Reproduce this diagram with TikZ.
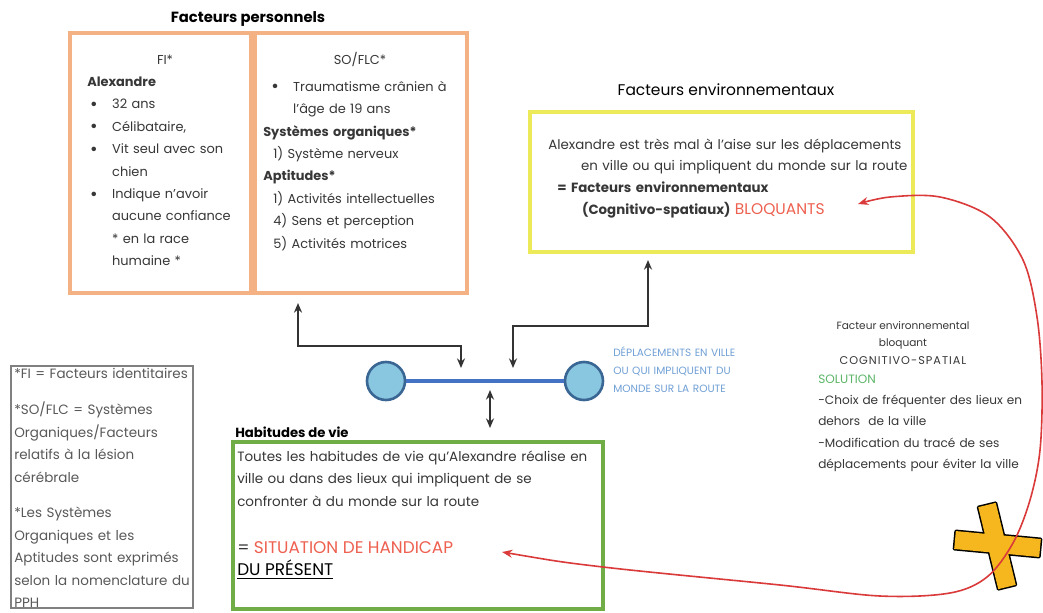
\documentclass[tikz,border=0pt]{standalone}
\usepackage{fontspec}
\setmainfont{Poppins}
\usepackage{tikz}
\usetikzlibrary{arrows.meta,positioning}
\definecolor{boxorange}{RGB}{244,177,131}
\definecolor{boxyellow}{RGB}{236,234,88}
\definecolor{boxgreen}{RGB}{112,173,71}
\definecolor{leggray}{RGB}{128,128,128}
\definecolor{bodygray}{RGB}{55,55,55}
\definecolor{redtxt}{RGB}{238,96,80}
\definecolor{redline}{RGB}{218,58,58}
\definecolor{bluetxt}{RGB}{112,160,214}
\definecolor{circfill}{RGB}{137,198,224}
\definecolor{circline}{RGB}{58,102,148}
\definecolor{barblue}{RGB}{68,114,196}
\definecolor{solgreen}{RGB}{92,182,104}
\definecolor{crossfill}{RGB}{246,183,30}
\newcommand\blt{\makebox[15.6pt][l]{\raisebox{-1.3pt}{\fontsize{13}{13}\selectfont\textbullet}}}

\begin{document}
\begin{tikzpicture}[x=0.025cm,y=-0.025cm,>=Stealth,
frame box/.style={draw,line width=0.1cm,outer sep=0pt,inner sep=0pt},
head/.style={inner sep=0pt,font=\fontsize{10.5}{12}\selectfont\bfseries},
body/.style={anchor=base west,inner sep=0pt,align=left,text width=11cm,text=bodygray,font=\fontsize{9.2}{16}\selectfont},
small/.style={inner sep=0pt,text=bodygray,font=\fontsize{9.2}{16}\selectfont},
link/.style={{Stealth[length=2.4mm,width=2mm]}-{Stealth[length=2.4mm,width=2mm]},draw=black!80,line width=0.04cm},
redlink/.style={{Stealth[length=2.6mm,width=2mm]}-{Stealth[length=2.6mm,width=2mm]},draw=redline,line width=0.04cm},
dot/.style={circle,draw=circline,fill=circfill,line width=0.065cm,minimum size=0.95cm,inner sep=0pt}]
\useasboundingbox[fill=white] (0,0) rectangle (1043,612);

\node[head] (perstitle) at (248,19) {Facteurs personnels};
\node[frame box,draw=boxorange,minimum width=4.525cm,minimum height=6.5cm] (fibox) at (160.5,163) {};
\node[frame box,draw=boxorange,minimum width=5.3cm,minimum height=6.5cm] (sobox) at (361,163) {};
\node[small] (fihead) at (165,60) {FI*};
\node[small] (sohead) at (360,60) {SO/FLC*};
\node[body] (fitext) at (87,86) {{\bfseries Alexandre}\\
\hspace*{2.1pt}\blt 32 ans\\
\hspace*{2.1pt}\blt Célibataire,\\
\hspace*{2.1pt}\blt Vit seul avec son\\
\hspace*{17.7pt}chien\\
\hspace*{2.1pt}\blt Indique n'avoir\\
\hspace*{17.7pt}aucune confiance\\
\hspace*{17.7pt}* en la race\\
\hspace*{17.7pt}humaine *};
\node[body] (sotext) at (263,91) {\hspace*{5.7pt}\blt Traumatisme crânien à\\
\hspace*{21.3pt}l'âge de 19 ans\\
{\bfseries Systèmes organiques*}\\
\hspace*{7.1pt}1) Système nerveux\\
{\bfseries Aptitudes*}\\
\hspace*{7.1pt}1) Activités intellectuelles\\
\hspace*{7.1pt}4) Sens et perception\\
\hspace*{7.1pt}5) Activités motrices};

\node[head,font=\fontsize{11}{12}\selectfont] (envtitle) at (726,90) {Facteurs environnementaux};
\node[frame box,draw=boxyellow,minimum width=9.575cm,minimum height=3.5cm] (envbox) at (721.5,182) {};
\node[body,font=\fontsize{9.5}{15.6}\selectfont] (envtext) at (548,149) {Alexandre est très mal à l'aise sur les déplacements\\
\hspace*{23.4pt}en ville ou qui impliquent du monde sur la route\\
\hspace*{6.4pt}{\bfseries = Facteurs environnementaux}\\
\hspace*{24.1pt}{\bfseries (Cognitivo-spatiaux)} {\color{redtxt}\fontsize{11}{15.6}\selectfont BLOQUANTS}};

\node[dot] (lcirc) at (386,381) {};
\node[dot] (rcirc) at (584,381) {};
\draw[barblue,line width=0.1cm] (lcirc) -- (rcirc);
\coordinate (barA) at (461,368);
\coordinate (barB) at (513,368);
\coordinate (barC) at (490,390);
\node[body,text=bluetxt,font=\fontsize{7.5}{12.8}\selectfont] (deptext) at (613,356) {DÉPLACEMENTS EN VILLE\\
OU QUI IMPLIQUENT DU\\
MONDE SUR LA ROUTE};

\node[frame box,draw=leggray,line width=0.03cm,minimum width=4.55cm,minimum height=6.05cm] (legbox) at (102,487) {};
\node[body,text=black!65,font=\fontsize{9.6}{16}\selectfont] (legtext) at (14,378) {*FI = Facteurs identitaires\\[0.35cm]
*SO/FLC = Systèmes\\
Organiques/Facteurs\\
relatifs à la lésion\\
cérébrale\\[0.33cm]
*Les Systèmes\\
Organiques et les\\
Aptitudes sont exprimés\\
selon la nomenclature du\\
PPH};

\node[head,anchor=base west,font=\fontsize{9.4}{12}\selectfont\bfseries] (habtitle) at (235,437) {Habitudes de vie};
\node[frame box,draw=boxgreen,minimum width=9.25cm,minimum height=4.175cm] (habbox) at (418,525.5) {};
\node[body,font=\fontsize{9.6}{16}\selectfont] (habtext) at (237,461) {Toutes les habitudes de vie qu'Alexandre réalise en\\
ville ou dans des lieux qui impliquent de se\\
confronter à du monde sur la route\\[0.62cm]
{\fontsize{12}{17}\selectfont = \color{redtxt}SITUATION DE HANDICAP}\\
{\fontsize{12}{17}\selectfont\color{black}\underline{DU PRÉSENT}}};

\node[small,align=center,font=\fontsize{7.5}{12.4}\selectfont] (fevtext) at (903,343) {Facteur environnemental\\bloquant\\{\fontsize{8}{12.4}\selectfont\addfontfeature{LetterSpace=9}COGNITIVO-SPATIAL}};
\node[body,font=\fontsize{8.6}{15.2}\selectfont] (soltext) at (818,383) {{\color{solgreen}SOLUTION}\\
-Choix de fréquenter des lieux en\\
dehors\ \ de la ville\\
-Modification du tracé de ses\\
déplacements pour éviter la ville};

\draw[link] ([shift={(-63,10)}]sobox.south) -- ++(0,43) -| (barA);
\draw[link] ([shift={(-73.5,8)}]envbox.south) -- ++(0,66) -| (barB);
\draw[link] (barC) -- ([shift={(72,-14)}]habbox.north);

\coordinate (hcaptip) at (502,552);
\coordinate (bloqtip) at (858,204);
\draw[black,line width=0.075cm,line join=round] (995.75,502.87) -- (978.25,507.13) -- (998.25,589.13) -- (1015.75,584.87) -- cycle
  (955.84,531.04) -- (954.16,548.96) -- (1039.16,556.96) -- (1040.84,539.04) -- cycle;
\fill[crossfill] (995.75,502.87) -- (978.25,507.13) -- (998.25,589.13) -- (1015.75,584.87) -- cycle
  (955.84,531.04) -- (954.16,548.96) -- (1039.16,556.96) -- (1040.84,539.04) -- cycle;
\draw[redlink] plot[smooth,tension=0.55] coordinates {(hcaptip) (603,567) (780,585) (880,596) (950,593) (987,577) (1013,543) (1030,500) (1040,450) (1042,383) (1037,317) (1023,260) (990,217) (940,197) (890,197) (bloqtip)};
\end{tikzpicture}
\end{document}
